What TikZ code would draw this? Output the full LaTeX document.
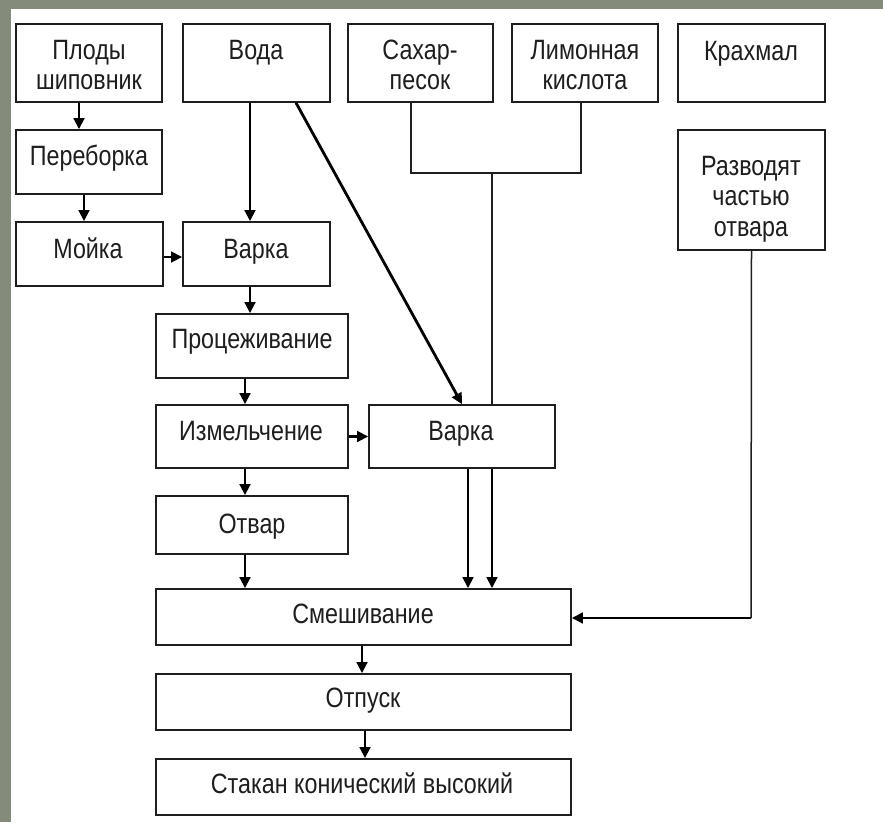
\documentclass[tikz,border=0pt]{standalone}
\usepackage{fontspec}
\setmainfont{Liberation Sans}
\usetikzlibrary{arrows.meta,calc,fit}
\definecolor{bgc}{HTML}{858B7B}
\definecolor{ink}{HTML}{1E1E1E}
\newcommand\tx[1]{\scalebox{1}[1.2]{\begin{tabular}[t]{@{}c@{}}#1\end{tabular}}}
\begin{document}
\begin{tikzpicture}[x=1pt,y=-1pt,
  box/.style={draw=ink, line width=1.6pt, inner sep=0pt},
  lbl/.style={inner sep=0pt, anchor=base, text=ink, font=\fontsize{23.3}{25.5}\selectfont},
  arr/.style={line width=2.8pt, draw=black, -{Triangle[length=11pt,width=10.5pt]}},
  thinline/.style={line width=1.5pt, draw=ink}]
\useasboundingbox (0,0) rectangle (883,822);
\fill[bgc] (0,0) rectangle (883,822);
\fill[white] (11,9) rectangle (883,822);
% boxes
\node[box, fit={(16,24) (162,102)}] (plody) {};
\node[box, fit={(183,24) (330,102)}] (voda) {};
\node[box, fit={(348,24) (493,102)}] (sahar) {};
\node[box, fit={(512,24) (658,102)}] (limon) {};
\node[box, fit={(678,24) (825,102)}] (krahmal) {};
\node[box, fit={(16,130) (162,194)}] (perebor) {};
\node[box, fit={(678,130) (825,250)}] (razvod) {};
\node[box, fit={(16,222) (163,286)}] (moika) {};
\node[box, fit={(183,222) (330,286)}] (varka1) {};
\node[box, fit={(156,314) (348,378)}] (proc) {};
\node[box, fit={(156,405) (348,468)}] (izmel) {};
\node[box, fit={(369,405) (555,468)}] (varka2) {};
\node[box, fit={(156,496) (348,554)}] (otvar) {};
\node[box, fit={(156,589) (571,645)}] (smesh) {};
\node[box, fit={(156,674) (571,730)}] (otpusk) {};
\node[box, fit={(156,759) (571,815)}] (stakan) {};
% labels
\node[lbl] (plody-t) at (89,59) {\tx{Плоды\\шиповник}};
\node[lbl] (voda-t) at (256,59) {\tx{Вода}};
\node[lbl] (sahar-t) at (420,59) {\tx{Сахар-\\песок}};
\node[lbl] (limon-t) at (585,59) {\tx{Лимонная\\кислота}};
\node[lbl] (krahmal-t) at (751,60) {\tx{Крахмал}};
\node[lbl] (perebor-t) at (89,165) {\tx{Переборка}};
\node[lbl] (razvod-t) at (751,175) {\tx{Разводят\\частью\\отвара}};
\node[lbl] (moika-t) at (88,258) {\tx{Мойка}};
\node[lbl] (varka1-t) at (256,258) {\tx{Варка}};
\node[lbl] (proc-t) at (252,348) {\tx{Процеживание}};
\node[lbl] (izmel-t) at (251,440) {\tx{Измельчение}};
\node[lbl] (varka2-t) at (461,440) {\tx{Варка}};
\node[lbl] (otvar-t) at (252,533) {\tx{Отвар}};
\node[lbl] (smesh-t) at (363,623) {\tx{Смешивание}};
\node[lbl] (otpusk-t) at (363,707) {\tx{Отпуск}};
\node[lbl] (stakan-t) at (362,793) {\tx{Стакан конический высокий}};
% connectors
\draw[arr] ($(plody.south)+(-10,0)$) -- ($(perebor.north)+(-10,0)$);
\draw[arr] ($(perebor.south)+(-5,0)$) -- ($(moika.north)+(-5.5,0)$);
\draw[arr] ($(voda.south)+(-6.5,0)$) -- ($(varka1.north)+(-6.5,0)$);
\draw[arr] ($(moika.east)+(0,3)$) -- ($(varka1.west)+(0,3)$);
\draw[arr] ($(voda.south)+(39.5,0)$) -- (varka2.north);
\draw[arr] ($(varka1.south)+(-6.5,0)$) -- ($(proc.north)+(-2,0)$);
\draw[arr] ($(proc.south)+(-7,0)$) -- ($(izmel.north)+(-7,0)$);
\draw[arr] (izmel.east) -- (varka2.west);
\draw[arr] ($(izmel.south)+(-7,0)$) -- ($(otvar.north)+(-7,0)$);
\draw[arr] ($(otvar.south)+(-7,0)$) -- ($(smesh.north)+(-118.5,0)$);
\draw[arr] ($(varka2.south)+(6,0)$) -- ($(smesh.north)+(104.5,0)$);
\draw[arr] ($(varka2.south)+(30,0)$) -- ($(smesh.north)+(128.5,0)$);
\coordinate (j) at (492,173);
\draw[thinline] ($(sahar.south)+(-9.5,0)$) |- (j) -| ($(limon.south)+(-4,0)$);
\draw[thinline] (j) -- ($(varka2.north)+(30,0)$);
\coordinate (k) at (751,618);
\draw[thinline] (razvod.south) -- (k);
\draw[arr] (k) -- (smesh.east |- k);
\draw[arr] ($(smesh.south)+(-1.5,0)$) -- ($(otpusk.north)+(-1.5,0)$);
\draw[arr] ($(otpusk.south)+(1.5,0)$) -- ($(stakan.north)+(1.5,0)$);
\end{tikzpicture}
\end{document}
